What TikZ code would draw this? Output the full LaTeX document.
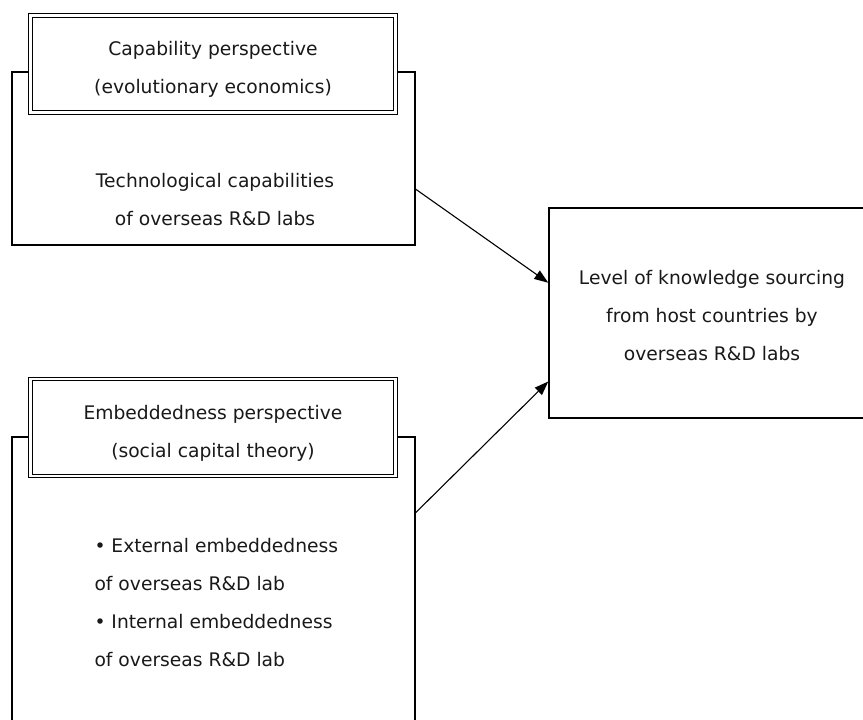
\documentclass[tikz,border=0pt]{standalone}
\usepackage{fontspec}
\setmainfont{DejaVu Sans}
\usetikzlibrary{calc,arrows.meta}
\begin{document}
\begin{tikzpicture}[x=1pt,y=-1pt,
  outerbox/.style={draw, line width=1.4pt, inner sep=0pt},
  titlebox/.style={draw, double, line width=1.2pt, double distance=2.3pt,
    fill=white, inner sep=0pt, minimum width=365pt, minimum height=97pt},
  every node/.style={align=center, text=black!90,
    font=\fontsize{18.7}{38}\selectfont},
  link/.style={-{Triangle[length=14pt,width=10pt]}, line width=1.1pt}]
\path[use as bounding box] (0,0) rectangle (863,720);
\clip (0,0) rectangle (863,720);
% the two explanatory blocks on the left
\node[outerbox, minimum width=403pt, minimum height=173pt] (capbox) at (213.5,158.5) {};
\node[titlebox] (captitle) at (213,64) {};
\node (captitletext) at (213,69.5) {Capability perspective\\(evolutionary economics)};
\node (captext) at (215,199.5) {Technological capabilities\\of overseas R\&D labs};
\node[outerbox, minimum width=403pt, minimum height=290pt] (embbox) at (213.5,582) {};
\node[titlebox] (embtitle) at (213,427.5) {};
\node (embtitletext) at (213,433) {Embeddedness perspective\\(social capital theory)};
\node[anchor=west, align=left] (embtext) at (91,602.5)
  {• External embeddedness\\of overseas R\&D lab\\• Internal embeddedness\\of overseas R\&D lab};
% outcome
\node[outerbox, minimum width=326pt, minimum height=210pt] (sourcebox) at (712,313) {};
\node (sourcetext) at (712,316)
  {Level of knowledge sourcing\\from host countries by\\overseas R\&D labs};
\draw[link] ($(capbox.north east)!0.676!(capbox.south east)$)
  -- ($(sourcebox.north west)!0.357!(sourcebox.south west)$);
\draw[link] ($(embbox.north east)!0.262!(embbox.south east)$)
  -- ($(sourcebox.north west)!0.824!(sourcebox.south west)$);
\end{tikzpicture}
\end{document}
